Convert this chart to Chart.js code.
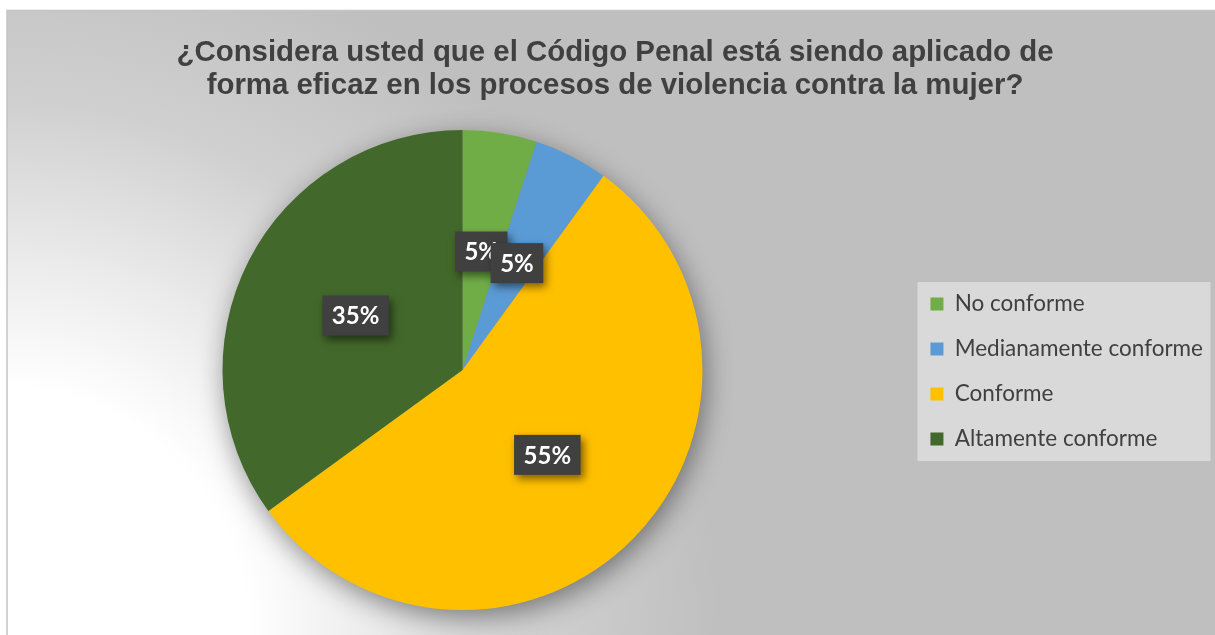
<!DOCTYPE html>
<html>
<head>
<meta charset="utf-8">
<script src="https://cdn.jsdelivr.net/npm/chart.js@4"></script>
<style>
  body { margin: 0; background: #fff; }
  #wrap { width: 1215px; height: 635px; }
</style>
</head>
<body>
<div id="wrap"><canvas id="canvas" width="1215" height="635"></canvas></div>
<script>
"use strict"

const categorias = ['No conforme', 'Medianamente conforme', 'Conforme', 'Altamente conforme'];
const porcentajes = [5, 5, 55, 35];
const colores = ['#70ad47', '#5b9bd5', '#ffc000', '#43682b'];
const titulo = ['¿Considera usted que el Código Penal está siendo aplicado de',
                'forma eficaz en los procesos de violencia contra la mujer?'];

// fondo con degradado, caja de leyenda, sombra del pastel y etiquetas
const fondo = {
    id: 'fondo',
    beforeDraw(chart) {
        const ctx = chart.ctx;
        ctx.save();
        ctx.fillStyle = '#ffffff';
        ctx.fillRect(0, 0, chart.width, chart.height);
        let g = ctx.createRadialGradient(0, 635, 0, 0, 635, 750);
        g.addColorStop(0, '#ffffff');
        g.addColorStop(0.33, '#ffffff');
        g.addColorStop(0.5, '#ebebeb');
        g.addColorStop(0.71, '#d0d0d0');
        g.addColorStop(0.96, '#bfbfbf');
        g.addColorStop(1, '#bfbfbf');
        ctx.fillStyle = g;
        ctx.fillRect(7, 10, chart.width - 7, chart.height - 10);
        ctx.strokeStyle = '#c4c4c4';
        ctx.lineWidth = 1.5;
        ctx.beginPath();
        ctx.moveTo(7, chart.height);
        ctx.lineTo(7, 10.5);
        ctx.lineTo(chart.width, 10.5);
        ctx.stroke();

        const lg = chart.legend;
        if (lg && lg.legendHitBoxes && lg.legendHitBoxes.length) {
            const hb = lg.legendHitBoxes;
            const x0 = hb[0].left - 13;
            const y0 = hb[0].top + hb[0].height / 2 - 22;
            const y1 = hb[hb.length - 1].top + hb[hb.length - 1].height / 2 + 22;
            ctx.fillStyle = '#d9d9d9';
            ctx.fillRect(x0, y0, 293, y1 - y0);
        }
        ctx.restore();
    },
    beforeDatasetsDraw(chart) {
        const arc = chart.getDatasetMeta(0).data[0];
        if (!arc) return;
        const ctx = chart.ctx;
        ctx.save();
        ctx.shadowColor = 'rgba(0,0,0,0.45)';
        ctx.shadowBlur = 28;
        ctx.shadowOffsetX = 3;
        ctx.shadowOffsetY = 8;
        ctx.fillStyle = '#888';
        ctx.beginPath();
        ctx.arc(arc.x, arc.y, arc.outerRadius - 1, 0, Math.PI * 2);
        ctx.fill();
        ctx.restore();
    },
    afterDatasetsDraw(chart) {
        const ctx = chart.ctx;
        const meta = chart.getDatasetMeta(0);
        ctx.save();
        ctx.font = 'bold 24px Lato';
        ctx.textAlign = 'center';
        ctx.textBaseline = 'middle';
        meta.data.forEach((a, i) => {
            const mid = (a.startAngle + a.endAngle) / 2;
            const r = a.outerRadius * 0.5;
            const x = a.x + Math.cos(mid) * r;
            const y = a.y + Math.sin(mid) * r;
            const txt = porcentajes[i] + '%';
            const w = ctx.measureText(txt).width + 19;
            const h = 40;
            ctx.save();
            ctx.shadowColor = 'rgba(0,0,0,0.5)';
            ctx.shadowBlur = 8;
            ctx.shadowOffsetX = 3;
            ctx.shadowOffsetY = 4;
            ctx.fillStyle = '#404040';
            ctx.fillRect(x - w / 2, y - h / 2, w, h);
            ctx.restore();
            ctx.fillStyle = '#ffffff';
            ctx.fillText(txt, x, y + 1);
        });
        ctx.restore();
    }
};

let ctx = document.getElementById('canvas').getContext('2d');
let myChart = new Chart(ctx, {
    type: 'pie',
    data: {
        labels: categorias,
        datasets: [{
            data: porcentajes,
            backgroundColor: colores,
            borderWidth: 0
        }]
    },
    options: {
        responsive: false,
        animation: false,
        layout: {
            padding: {left: 17, right: 2, top: 0, bottom: 25}
        },
        plugins: {
            title: {
                display: true,
                text: titulo,
                color: '#404040',
                font: {family: 'Liberation Sans', size: 29.4, weight: 'bold', lineHeight: 1.123},
                padding: {top: 36, bottom: 28}
            },
            legend: {
                position: 'right',
                title: {
                    display: true,
                    text: '',
                    font: {size: 10, lineHeight: 1},
                    padding: {top: 62, bottom: 61}
                },
                labels: {
                    color: '#404040',
                    font: {family: 'Lato', size: 22.5},
                    boxWidth: 13,
                    boxHeight: 13,
                    padding: 22.5
                }
            },
            tooltip: {enabled: false}
        }
    },
    plugins: [fondo]
});
</script>
</body>
</html>
